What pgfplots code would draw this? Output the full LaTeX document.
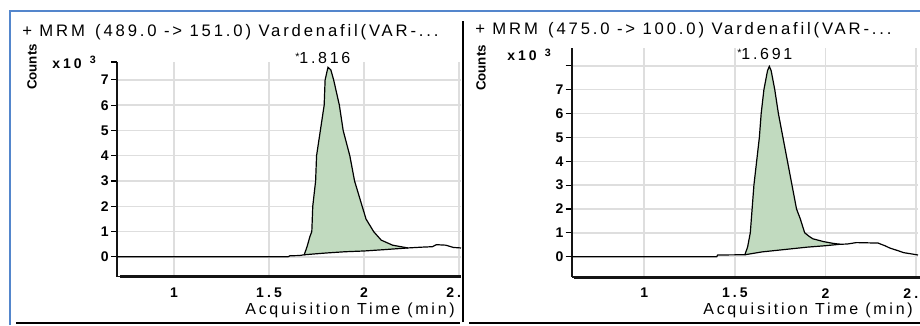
\documentclass[border=0pt]{standalone}
\usepackage{pgfplots}
\pgfplotsset{compat=1.18}
\usepackage{fontspec}
\setmainfont{Liberation Sans}
\newfontfamily\widefont[LetterSpace=17]{Liberation Sans}
\newfontfamily\tickfont[LetterSpace=22]{Liberation Sans}
\definecolor{peakgreen}{RGB}{193,218,191}
\definecolor{gridgray}{RGB}{222,222,222}
\definecolor{frameblue}{RGB}{84,134,204}
\definecolor{axisblack}{RGB}{20,20,20}

\pgfplotsset{chrom/.style={
  anchor=south west, scale only axis,
  axis lines*=left,
  axis line style={-, axisblack, line width=1.2pt},
  grid=major,
  major grid style={gridgray, line width=1.1pt},
  tick align=outside,
  major tick length=4.5pt,
  ytick style={black, line width=0.8pt},
  xtick style={draw=none},
  xtick={1,1.5,2,2.5},
  /pgf/number format/assume math mode=true,
  ticklabel style={font=\tickfont\bfseries\fontsize{10.5}{11}\selectfont},
  yticklabel style={inner sep=1.5pt},
  xticklabel style={inner sep=1pt, yshift=-3pt},
  extra y tick style={grid=none},
}}

\begin{document}
\begin{tikzpicture}
\path[use as bounding box] (0,0) rectangle (690pt,243.75pt);

% ---------------- left panel ----------------
\begin{scope}
\clip (0,0) rectangle (345.75pt,243.75pt);
\begin{axis}[chrom,
  at={(87.75pt,36.375pt)}, width=258pt, height=160.875pt,
  xmin=0.70, xmax=2.51, ymin=-0.78, ymax=7.71,
  ytick={0,1,2,3,4,5,6,7},
  extra y ticks={7.71}, extra y tick labels={}]
\addplot[fill=peakgreen, draw=none] coordinates {
 (1.685,0.08) (1.70,0.4) (1.715,0.8) (1.725,1.0) (1.73,2.0) (1.745,3.0)
 (1.75,4.0) (1.77,5.0) (1.79,6.0) (1.795,7.0) (1.81,7.5) (1.825,7.4)
 (1.84,7.0) (1.87,6.0) (1.89,5.0) (1.925,4.0) (1.95,3.0) (1.99,2.0)
 (2.01,1.5) (2.05,1.0) (2.09,0.66) (2.15,0.46) (2.23,0.35)
 (2.10,0.28) (2.00,0.23) (1.90,0.20) (1.80,0.15) (1.75,0.12)
} -- cycle;
\addplot[black, line width=0.9pt] coordinates {
 (0.70,0) (1.60,0) (1.61,0.04) (1.66,0.05) (1.685,0.08) (1.70,0.4)
 (1.715,0.8) (1.725,1.0) (1.73,2.0) (1.745,3.0) (1.75,4.0) (1.77,5.0)
 (1.79,6.0) (1.795,7.0) (1.81,7.5) (1.825,7.4) (1.84,7.0) (1.87,6.0)
 (1.89,5.0) (1.925,4.0) (1.95,3.0) (1.99,2.0) (2.01,1.5) (2.05,1.0)
 (2.09,0.66) (2.15,0.46) (2.23,0.35) (2.30,0.38) (2.36,0.40) (2.38,0.48)
 (2.43,0.46) (2.47,0.37) (2.51,0.35)
};
\addplot[black, line width=0.9pt] coordinates {
 (1.685,0.08) (1.75,0.12) (1.80,0.15) (1.90,0.20) (2.00,0.23) (2.10,0.28) (2.23,0.35)
};
\end{axis}
\end{scope}

% ---------------- right panel ----------------
\begin{scope}
\clip (0,0) rectangle (690pt,243.75pt);
\begin{axis}[chrom,
  at={(428.775pt,36.225pt)}, width=259.725pt, height=171.525pt,
  xmin=0.60, xmax=2.51, ymin=-0.84, ymax=8.75,
  ytick={0,1,2,3,4,5,6,7,8},
  yticklabels={0,1,2,3,4,5,6,7,{}}]
\addplot[fill=peakgreen, draw=none] coordinates {
 (1.555,0.08) (1.57,0.4) (1.585,1.0) (1.595,2.0) (1.605,3.0) (1.62,4.0)
 (1.635,5.0) (1.645,6.0) (1.66,7.0) (1.68,7.8) (1.69,7.98) (1.70,7.8)
 (1.72,7.0) (1.74,6.0) (1.765,5.0) (1.79,4.0) (1.815,3.0) (1.84,2.0)
 (1.86,1.6) (1.885,1.0) (1.91,0.85) (1.93,0.75) (1.99,0.63) (2.04,0.56)
 (2.08,0.52)
 (2.00,0.46) (1.90,0.40) (1.80,0.32) (1.65,0.20)
} -- cycle;
\addplot[black, line width=0.9pt] coordinates {
 (0.60,0) (1.40,0) (1.405,0.07) (1.555,0.08) (1.57,0.4) (1.585,1.0)
 (1.595,2.0) (1.605,3.0) (1.62,4.0) (1.635,5.0) (1.645,6.0) (1.66,7.0)
 (1.68,7.8) (1.69,7.98) (1.70,7.8) (1.72,7.0) (1.74,6.0) (1.765,5.0)
 (1.79,4.0) (1.815,3.0) (1.84,2.0) (1.86,1.6) (1.885,1.0) (1.91,0.85)
 (1.93,0.75) (1.99,0.63) (2.04,0.56) (2.08,0.52) (2.12,0.53) (2.17,0.59)
 (2.29,0.57) (2.33,0.45) (2.355,0.36) (2.40,0.25) (2.43,0.17) (2.47,0.12)
 (2.51,0.07)
};
\addplot[black, line width=0.9pt] coordinates {
 (1.555,0.08) (1.65,0.20) (1.80,0.32) (1.90,0.40) (2.00,0.46) (2.08,0.52)
};
\end{axis}
\end{scope}

% x axis lines, drawn as bars just below each plot area
\fill[axisblack] (90pt,35pt) rectangle (345.75pt,37.2pt);
\fill[axisblack] (430.5pt,34.8pt) rectangle (690pt,37pt);

\begin{scope}[x=0.75pt,y=0.75pt]
\draw[frameblue, line width=1.5pt] (10,0) -- (10,314) -- (920,314);
\draw[black, line width=1.1pt] (463,3) -- (463,304);
\draw[black, line width=1.5pt] (16,2) -- (460,2);
\draw[black, line width=1.5pt] (469,2) -- (920,2);

\node[anchor=base west, inner sep=0, font=\widefont\fontsize{12.5}{13}\selectfont] at (22,288) {+ MRM\, (489.0 -> 151.0) Vardenafil(VAR-...};
\node[anchor=base west, inner sep=0, font=\widefont\fontsize{12.5}{13}\selectfont] at (475,290) {+ MRM\, (475.0 -> 100.0) Vardenafil(VAR-...};

\node[rotate=90, inner sep=0, font=\bfseries\fontsize{10}{10}\selectfont] at (32,258) {Counts};
\node[rotate=90, inner sep=0, font=\bfseries\fontsize{10}{10}\selectfont] at (481,257) {Counts};

\node[anchor=west, inner sep=0, font=\tickfont\bfseries\fontsize{10.5}{11}\selectfont] at (52,262.5) {x10\hspace{6pt}\raisebox{3.5pt}{\fontsize{8}{8}\selectfont 3}};
\node[anchor=west, inner sep=0, font=\tickfont\bfseries\fontsize{10.5}{11}\selectfont] at (507,270) {x10\hspace{6pt}\raisebox{3.5pt}{\fontsize{8}{8}\selectfont 3}};

\node[anchor=west, inner sep=0, font=\widefont\fontsize{12}{12}\selectfont] at (295,267) {\raisebox{2pt}{\fontsize{8}{8}\selectfont *}1.816};
\node[anchor=west, inner sep=0, font=\widefont\fontsize{12}{12}\selectfont] at (737,271) {\raisebox{2pt}{\fontsize{8}{8}\selectfont *}1.691};

\node[anchor=east, inner sep=0, font=\widefont\fontsize{12}{12}\selectfont] at (455,15) {Acquisition Time (min)};
\node[anchor=east, inner sep=0, font=\widefont\fontsize{12}{12}\selectfont] at (913,15) {Acquisition Time (min)};
\end{scope}
\end{tikzpicture}
\end{document}
